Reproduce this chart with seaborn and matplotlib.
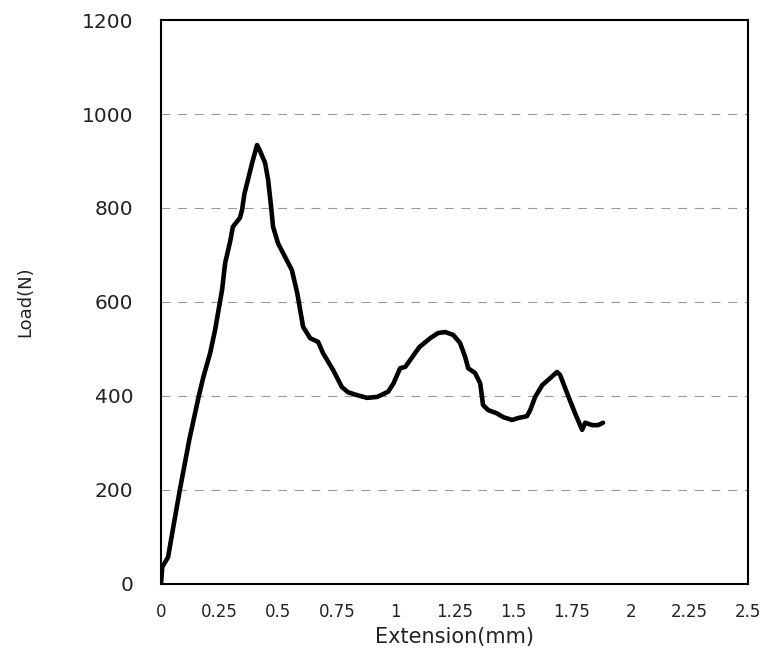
import matplotlib

matplotlib.use("Agg")

import matplotlib.pyplot as plt
import pandas as pd
import seaborn as sns

sns.set_theme(style="white")
plt.rcParams["font.family"] = ["DejaVu Sans"]

# extension (mm) and load (N)
extension = [
    0.0, 0.005, 0.03, 0.05, 0.08, 0.12, 0.16, 0.18, 0.209, 0.23, 0.247, 0.26,
    0.273, 0.294, 0.306, 0.336, 0.345, 0.355, 0.37, 0.39, 0.409, 0.42, 0.443,
    0.456, 0.47, 0.477, 0.498, 0.528, 0.557, 0.58, 0.605, 0.635, 0.669, 0.69,
    0.733, 0.77, 0.796, 0.834, 0.877, 0.92, 0.967, 0.99, 1.018, 1.04, 1.07,
    1.10, 1.146, 1.18, 1.21, 1.244, 1.273, 1.295, 1.308, 1.337, 1.359, 1.371,
    1.393, 1.43, 1.457, 1.495, 1.52, 1.558, 1.572, 1.593, 1.623, 1.657, 1.686,
    1.699, 1.729, 1.763, 1.793, 1.806, 1.836, 1.861, 1.882,
]
load = [
    0, 36, 57, 115, 200, 306, 398, 440, 491, 540, 589, 626,
    683, 728, 760, 779, 796, 830, 860, 900, 934, 923, 896,
    860, 796, 760, 725, 696, 668, 619, 547, 523, 515, 491,
    455, 419, 408, 402, 396, 398, 409, 427, 459, 462, 483,
    504, 523, 534, 536, 530, 513, 483, 459, 449, 427, 381,
    370, 363, 355, 349, 353, 357, 370, 398, 423, 438, 451,
    445, 406, 363, 328, 343, 338, 338, 343,
]
x_ticks = [0, 0.25, 0.5, 0.75, 1, 1.25, 1.5, 1.75, 2, 2.25, 2.5]
x_tick_labels = ["0", "0.25", "0.5", "0.75", "1", "1.25", "1.5", "1.75", "2", "2.25", "2.5"]
y_ticks = [0, 200, 400, 600, 800, 1000, 1200]

df = pd.DataFrame({"extension": extension, "load": load})

fig = plt.figure(figsize=(7.65, 6.56), dpi=100)
ax = fig.add_axes([0.2105, 0.1098, 0.7675, 0.8597])

for y in y_ticks[1:-1]:
    ax.axhline(y, color="#999999", linewidth=0.8, linestyle=(0, (8, 7)), zorder=1)

sns.lineplot(data=df, x="extension", y="load", ax=ax, color="black",
             linewidth=3.3, sort=False, estimator=None, zorder=3)

ax.set_xlim(0, 2.5)
ax.set_ylim(0, 1200)
ax.set_xticks(x_ticks)
ax.set_xticklabels(x_tick_labels)
ax.set_yticks(y_ticks)
ax.tick_params(axis="x", labelsize=12, pad=14, length=0, colors="#222222")
ax.tick_params(axis="y", labelsize=14.5, pad=20, length=0, colors="#222222")
for spine in ax.spines.values():
    spine.set_color("black")
    spine.set_linewidth(1.5)

ax.set_xlabel("Extension(mm)", fontsize=15, color="#222222", labelpad=4)
ax.set_ylabel("Load(N)", fontsize=13, color="#222222", labelpad=34)
ax.grid(False)

fig.savefig("out.png", dpi=100)
plt.close(fig)
